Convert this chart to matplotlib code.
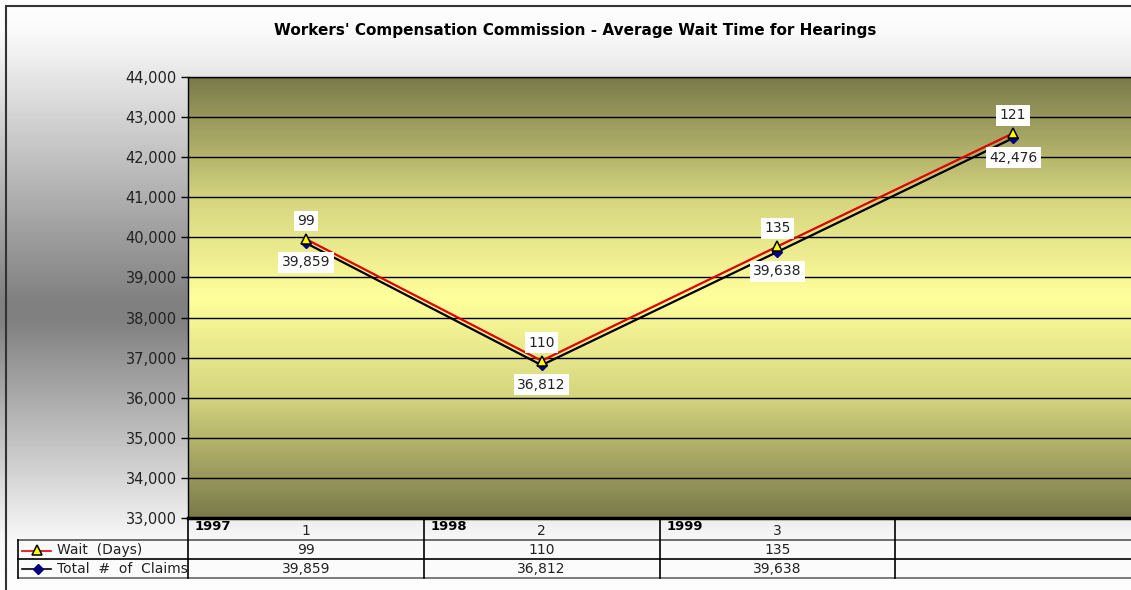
import matplotlib
matplotlib.use("Agg")
import matplotlib.pyplot as plt
import numpy as np
from matplotlib.colors import LinearSegmentedColormap

# data
years = ['1997', '1998', '1999']
categories = ['1', '2', '3', '']
wait_days = [99, 110, 135, 121]
total_claims = [39859, 36812, 39638, 42476]
table_cols = 3  # the table only lists the first three columns

W, H = 1131, 590
fig = plt.figure(figsize=(W / 100, H / 100), dpi=100)

# figure background: white -> gray -> white
bg = fig.add_axes([0, 0, 1, 1], zorder=-2)
yy = np.arange(H)
lev = np.interp(yy, [0, 30, 300, 320, 540, 590], [253, 250, 128, 128, 248, 253]) / 255.0
bg.imshow(np.repeat(lev[:, None], 2, axis=1), cmap='gray', vmin=0, vmax=1,
          aspect='auto', extent=(0, 1, 0, 1), origin='upper')
bg.set_xlim(0, 1)
bg.set_ylim(0, 1)
bg.axis('off')

# plot area
left, right, top, bottom = 188, 1131, 77, 518
ax = fig.add_axes([left / W, 1 - bottom / H, (right - left) / W, (bottom - top) / H])
ax.set_xlim(-0.5, len(categories) - 0.5)
ax.set_ylim(33000, 44000)

olive = '#7a7a4a'
cm = LinearSegmentedColormap.from_list(
    'plotbg', [(0, olive), (0.28, '#d6d680'), (0.5, '#ffff9c'), (0.72, '#d6d680'), (1, olive)])
ax.imshow(np.linspace(0, 1, 256)[:, None], cmap=cm, aspect='auto',
          extent=(-0.5, len(categories) - 0.5, 33000, 44000), origin='upper', zorder=0)

ax.set_yticks(np.arange(33000, 44001, 1000))
ax.yaxis.grid(True, color='black', lw=1, zorder=1)
ax.set_axisbelow(False)
ax.tick_params(axis='y', direction='out', length=5, width=1, labelsize=10.5,
               colors='black', labelcolor='#222222', pad=3)
ax.set_yticklabels(['{:,}'.format(v) for v in ax.get_yticks().astype(int)])
ax.set_xticks([])
for s in ['left', 'top']:
    ax.spines[s].set_color('black')
    ax.spines[s].set_linewidth(1)
ax.spines['bottom'].set_linewidth(2.5)
ax.spines['right'].set_visible(False)

x = np.arange(len(categories))
# stacked line chart: wait is stacked on top of the claims
stacked = np.array(total_claims) + np.array(wait_days)
ax.plot(x, stacked, color='#e00000', lw=1.6, marker='^', ms=6.5, mfc='#ffff00',
        mec='black', mew=1.1, zorder=4, clip_on=False)
ax.plot(x, total_claims, color='black', lw=1.6, marker='D', ms=5, mfc='#000080',
        mec='#000080', zorder=3, clip_on=False)

box = dict(boxstyle='square,pad=0.25', fc='white', ec='none')
for xi, w, s, c in zip(x, wait_days, stacked, total_claims):
    ax.annotate(str(w), (xi, s), xytext=(0, 13), textcoords='offset points',
                ha='center', va='center', fontsize=10, color='#222222', bbox=box, zorder=5)
    ax.annotate('{:,}'.format(c), (xi, c), xytext=(0, -14), textcoords='offset points',
                ha='center', va='center', fontsize=10, color='#222222', bbox=box, zorder=5)

fig.text(575 / W, 1 - 31 / H, "Workers' Compensation Commission - Average Wait Time for Hearings",
         ha='center', va='center', fontsize=11, fontweight='bold', color='black')

# overlay in pixel coords for the data table and outer frame
ov = fig.add_axes([0, 0, 1, 1], zorder=5)
ov.set_xlim(0, W)
ov.set_ylim(H, 0)
ov.axis('off')
ov.patch.set_alpha(0)

colw = (right - left) / len(categories)
edges = [left + i * colw for i in range(len(categories) + 1)]
r0, r1, r2, r3 = bottom, 540, 559, 578
tx0 = 18

ov.plot([tx0, W], [r1, r1], color='#555555', lw=1.2)
ov.plot([tx0, W], [r2, r2], color='black', lw=1.2)
ov.plot([tx0, W], [r3, r3], color='#666666', lw=1.2)
ov.plot([tx0, tx0], [r1, r3], color='black', lw=1.2)
for e in edges[:-1]:
    ov.plot([e, e], [r0, r3], color='black', lw=1.2)

for i, cat in enumerate(categories):
    cx = (edges[i] + edges[i + 1]) / 2
    ov.text(cx, 531, cat, ha='center', va='center', fontsize=10, color='#222222')
for i, yr in enumerate(years):
    ov.text(edges[i] + 7, 527, yr, ha='left', va='center', fontsize=9.5,
            fontweight='bold', color='black')
for i in range(table_cols):
    cx = (edges[i] + edges[i + 1]) / 2
    ov.text(cx, 550, str(wait_days[i]), ha='center', va='center', fontsize=10, color='#222222')
    ov.text(cx, 569, '{:,}'.format(total_claims[i]), ha='center', va='center',
            fontsize=10, color='#222222')

# legend keys in the table
ov.plot([22, 51], [551, 551], color='#e00000', lw=1.2)
ov.plot([36.5], [550], marker='^', ms=6.5, mfc='#ffff00', mec='black', mew=1.1)
ov.plot([22, 51], [569, 569], color='black', lw=1.2)
ov.plot([37.5], [569], marker='D', ms=5, mfc='#000080', mec='#000080')
ov.text(57, 550, 'Wait  (Days)', ha='left', va='center', fontsize=10, color='#222222')
ov.text(57, 569, 'Total  #  of  Claims', ha='left', va='center', fontsize=10, color='#222222')

# outer chart frame
ov.plot([5, W], [5.5, 5.5], color='#333333', lw=1.5, solid_capstyle='butt')
ov.plot([5.5, 5.5], [5, H], color='#333333', lw=1.5, solid_capstyle='butt')

fig.savefig('out.png', dpi=100)
